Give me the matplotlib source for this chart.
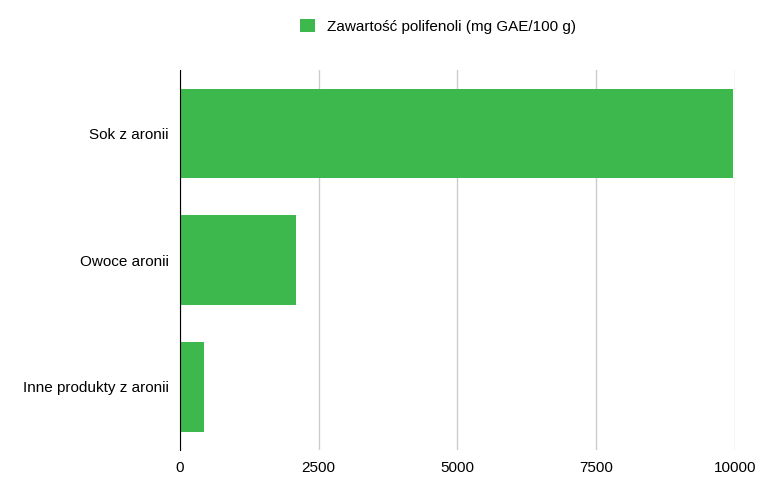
import matplotlib
matplotlib.use("Agg")
import matplotlib.pyplot as plt

categories = ["Sok z aronii", "Owoce aronii", "Inne produkty z aronii"]
values = [9970, 2090, 430]
ticks = [0, 2500, 5000, 7500, 10000]
series_name = "Zawartość polifenoli (mg GAE/100 g)"
color = "#3cb84c"

plt.rcParams['font.family'] = ['Liberation Sans', 'DejaVu Sans']
fig = plt.figure(figsize=(7.68, 4.84), dpi=100)
ax = fig.add_axes([0.234, 0.07, 0.723, 0.785])
y = list(range(len(categories)))
ax.barh(y, values, height=0.71, color=color, label=series_name, zorder=2)
ax.set_yticks(y)
ax.set_yticklabels(categories, fontsize=11)
ax.invert_yaxis()
ax.set_xlim(0, 10000)
ax.set_ylim(2.5, -0.5)
ax.set_xticks(ticks)
ax.set_xticklabels([str(t) for t in ticks], fontsize=11)
ax.grid(axis='x', color='#cccccc', linewidth=1, zorder=0)
for s in ['top', 'right', 'bottom']:
    ax.spines[s].set_visible(False)
ax.spines['left'].set_color('black')
ax.tick_params(length=0, pad=8)
fig.legend(loc='upper center', bbox_to_anchor=(0.57, 0.99), frameon=False,
           fontsize=11, handlelength=1, handleheight=1)
fig.savefig("out.png", dpi=100)
